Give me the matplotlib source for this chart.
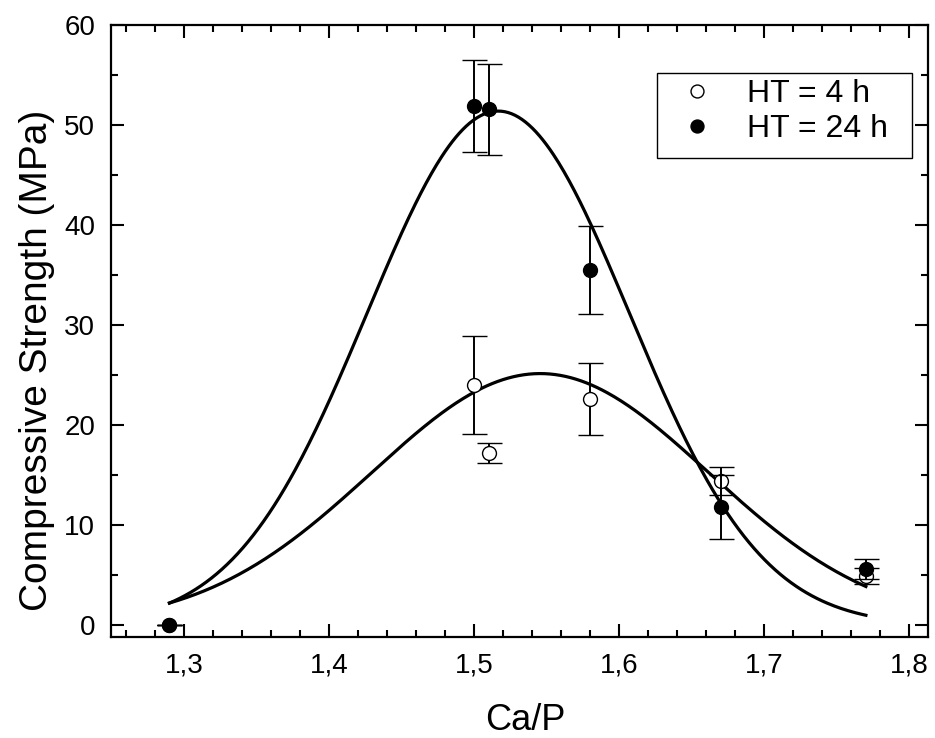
import numpy as np
import matplotlib
matplotlib.use("Agg")
import matplotlib.pyplot as plt
from matplotlib.ticker import MultipleLocator, FuncFormatter
from matplotlib.lines import Line2D
from matplotlib.patches import Rectangle

plt.rcParams['font.family'] = ['Liberation Sans', 'DejaVu Sans']

# Data
ca_p = [1.29, 1.50, 1.51, 1.58, 1.67, 1.77]
cs_4h = [0.0, 24.0, 17.2, 22.6, 14.4, 4.9]
err_4h = [0.0, 4.9, 1.0, 3.6, 1.4, 0.8]
cs_24h = [0.0, 51.9, 51.6, 35.5, 11.8, 5.6]
err_24h = [0.0, 4.6, 4.55, 4.4, 3.2, 1.0]
series_labels = ['HT = 4 h', 'HT = 24 h']

# Gaussian fit parameters (amplitude, centre, width)
fit_4h = (25.17, 1.5455, 0.1162)
fit_24h = (51.4, 1.5166, 0.0905)
fit_range = (1.29, 1.77)

fig = plt.figure(figsize=(9.35, 7.38), dpi=100)
ax = fig.add_axes([0.1187, 0.1369, 0.9925 - 0.1187, 0.9661 - 0.1369])

xf = np.linspace(fit_range[0], fit_range[1], 400)
for (A, xc, w) in (fit_4h, fit_24h):
    ax.plot(xf, A * np.exp(-(xf - xc) ** 2 / (2 * w ** 2)), color='black', lw=2.3, zorder=2)

ax.errorbar(ca_p, cs_4h, yerr=err_4h, fmt='o', mfc='white', mec='black', mew=1.0,
            ms=10, ecolor='black', elinewidth=1.4, capsize=9, capthick=1.4,
            color='black', zorder=3)
ax.errorbar(ca_p, cs_24h, yerr=err_24h, fmt='o', mfc='black', mec='black', mew=1.0,
            ms=10, ecolor='black', elinewidth=1.4, capsize=9, capthick=1.4,
            color='black', zorder=4)

ax.set_xlim(1.2497, 1.8128)
ax.set_ylim(-1.15, 60)
ax.xaxis.set_major_locator(MultipleLocator(0.1))
ax.xaxis.set_minor_locator(MultipleLocator(0.02))
ax.yaxis.set_major_locator(MultipleLocator(10))
ax.yaxis.set_minor_locator(MultipleLocator(5))
ax.xaxis.set_major_formatter(FuncFormatter(lambda v, p: f"{v:.1f}".replace('.', ',')))
ax.yaxis.set_major_formatter(FuncFormatter(lambda v, p: f"{v:.0f}"))

ax.tick_params(which='both', direction='in', top=True, right=True, width=1.5, labelsize=20)
ax.tick_params(which='major', length=9.5)
ax.tick_params(which='minor', length=5)
ax.tick_params(axis='y', pad=11.5)
ax.tick_params(axis='x', pad=11)
for s in ax.spines.values():
    s.set_linewidth(1.6)

ax.set_xlabel('Ca/P', fontsize=26)
ax.xaxis.set_label_coords(0.507, -0.108)
ax.set_ylabel('Compressive Strength (MPa)', fontsize=28)
ax.yaxis.set_label_coords(-0.0685, 0.4526)

# legend frame
ax.add_patch(Rectangle((0.668, 0.782), 0.980 - 0.668, 0.922 - 0.782, transform=ax.transAxes,
                       fill=True, facecolor='white', edgecolor='black', lw=1.0, zorder=5))
handles = [
    Line2D([], [], ls='none', marker='o', ms=9.3, mfc='white', mec='black', mew=1.0),
    Line2D([], [], ls='none', marker='o', ms=9.3, mfc='black', mec='black', mew=1.0),
]
leg = ax.legend(handles, series_labels, loc='upper left', bbox_to_anchor=(0.6977, 0.912),
                fontsize=23, frameon=False, handletextpad=1.06, borderpad=0,
                labelspacing=0.16, handlelength=1.0, borderaxespad=0)
leg.set_zorder(6)

fig.savefig('out.png', dpi=100)
